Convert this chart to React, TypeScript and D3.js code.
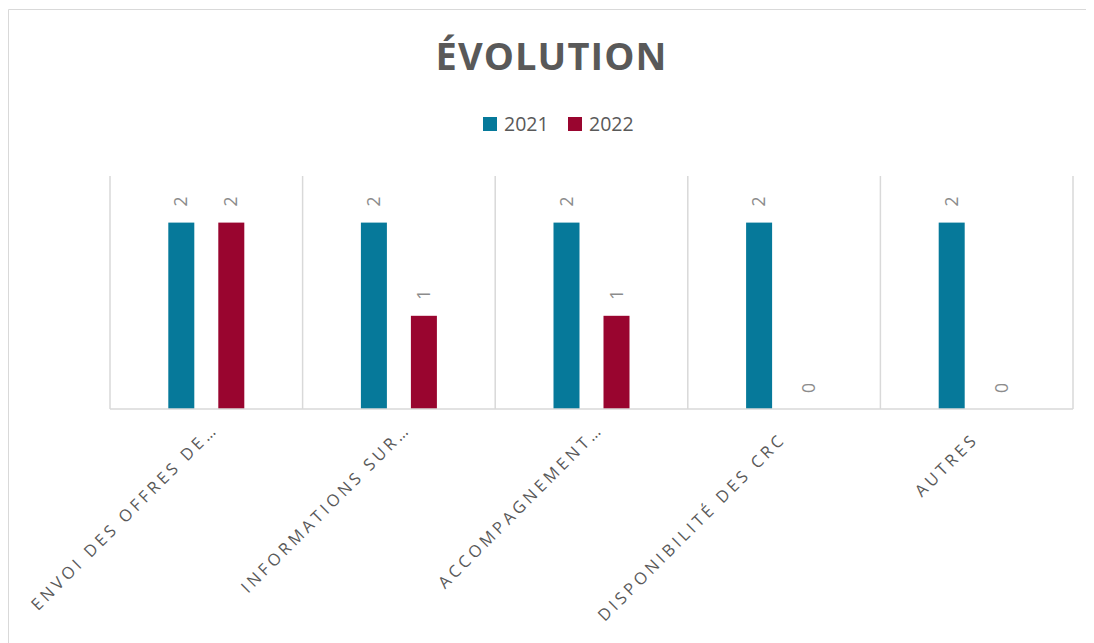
import React from "react";
import * as d3 from "d3";

const categories = [
  "ENVOI DES OFFRES DE…",
  "INFORMATIONS SUR…",
  "ACCOMPAGNEMENT…",
  "DISPONIBILITÉ DES CRC",
  "AUTRES",
];
const seriesNames = ["2021", "2022"];
const values2021 = [2, 2, 2, 2, 2];
const values2022 = [2, 1, 1, 0, 0];
const seriesColors = ["#06799A", "#99052F"];
const yDomain = [0, 2.5];
const title = "ÉVOLUTION";

export default function App() {
  const W = 1086;
  const H = 635;
  const plot = { left: 102, right: 1065, top: 168, bottom: 401 };
  const font = "'Open Sans', 'Liberation Sans', sans-serif";

  const x = d3.scaleBand<string>().domain(categories).range([plot.left, plot.right]).padding(0);
  const bw = x.bandwidth();
  const xs = d3
    .scaleBand<string>()
    .domain(seriesNames)
    .range([0, bw])
    .paddingInner(0.48)
    .paddingOuter(1.166);
  const y = d3.scaleLinear().domain(yDomain).range([plot.bottom, plot.top]);

  const series = [values2021, values2022];
  const edges = categories.map((c) => x(c) as number).concat([plot.right]);

  return (
    <svg width={W} height={H} style={{ display: "block" }}>
      <rect x={0} y={0} width={W} height={H} fill="#ffffff" />
      <line x1={0.5} y1={1.5} x2={W} y2={1.5} stroke="#d9d9d9" strokeWidth={1} />
      <line x1={0.5} y1={1.5} x2={0.5} y2={H} stroke="#d9d9d9" strokeWidth={1} />

      <text
        x={W / 2}
        y={62}
        textAnchor="middle"
        fontFamily={font}
        fontWeight={700}
        fontSize={38}
        fill="#595959"
        textLength={231}
        lengthAdjust="spacing"
      >
        {title}
      </text>

      {/* legend */}
      {seriesNames.map((s, i) => {
        const lx = [475, 560][i];
        return (
          <g key={s}>
            <rect x={lx} y={109} width={14} height={14} fill={seriesColors[i]} />
            <text x={lx + 21} y={123} fontFamily={font} fontSize={19.5} fill="#595959">
              {s}
            </text>
          </g>
        );
      })}

      {/* gridlines / category separators */}
      {edges.map((e, i) => (
        <line
          key={"g" + i}
          x1={e}
          x2={e}
          y1={plot.top}
          y2={plot.bottom}
          stroke="#d9d9d9"
          strokeWidth={1.5}
        />
      ))}

      {/* bars */}
      {categories.map((c, ci) =>
        seriesNames.map((s, si) => {
          const v = series[si][ci];
          const bx = (x(c) as number) + (xs(s) as number);
          const top = y(v);
          return (
            <g key={c + s}>
              {v > 0 && (
                <rect
                  x={bx}
                  y={top}
                  width={xs.bandwidth()}
                  height={plot.bottom - top}
                  fill={seriesColors[si]}
                />
              )}
              <text
                transform={`translate(${bx + xs.bandwidth() / 2},${top - 16}) rotate(-90)`}
                dy="0.35em"
                fontFamily={font}
                fontSize={17.5}
                fill="#8c8c8c"
              >
                {v}
              </text>
            </g>
          );
        })
      )}

      <line x1={plot.left} x2={plot.right} y1={plot.bottom} y2={plot.bottom} stroke="#d9d9d9" strokeWidth={1.5} />

      {/* x labels */}
      {categories.map((c) => {
        const cx = (x(c) as number) + bw / 2;
        const extra = c.endsWith("…") ? 18 : 4;
        const px = cx + extra * 0.707;
        const py = 435 - extra * 0.707;
        return (
          <text
            key={"l" + c}
            transform={`translate(${px},${py}) rotate(-45)`}
            textAnchor="end"
            fontFamily={font}
            fontSize={16.5}
            letterSpacing={3.6}
            fill="#595959"
          >
            {c}
          </text>
        );
      })}
    </svg>
  );
}
